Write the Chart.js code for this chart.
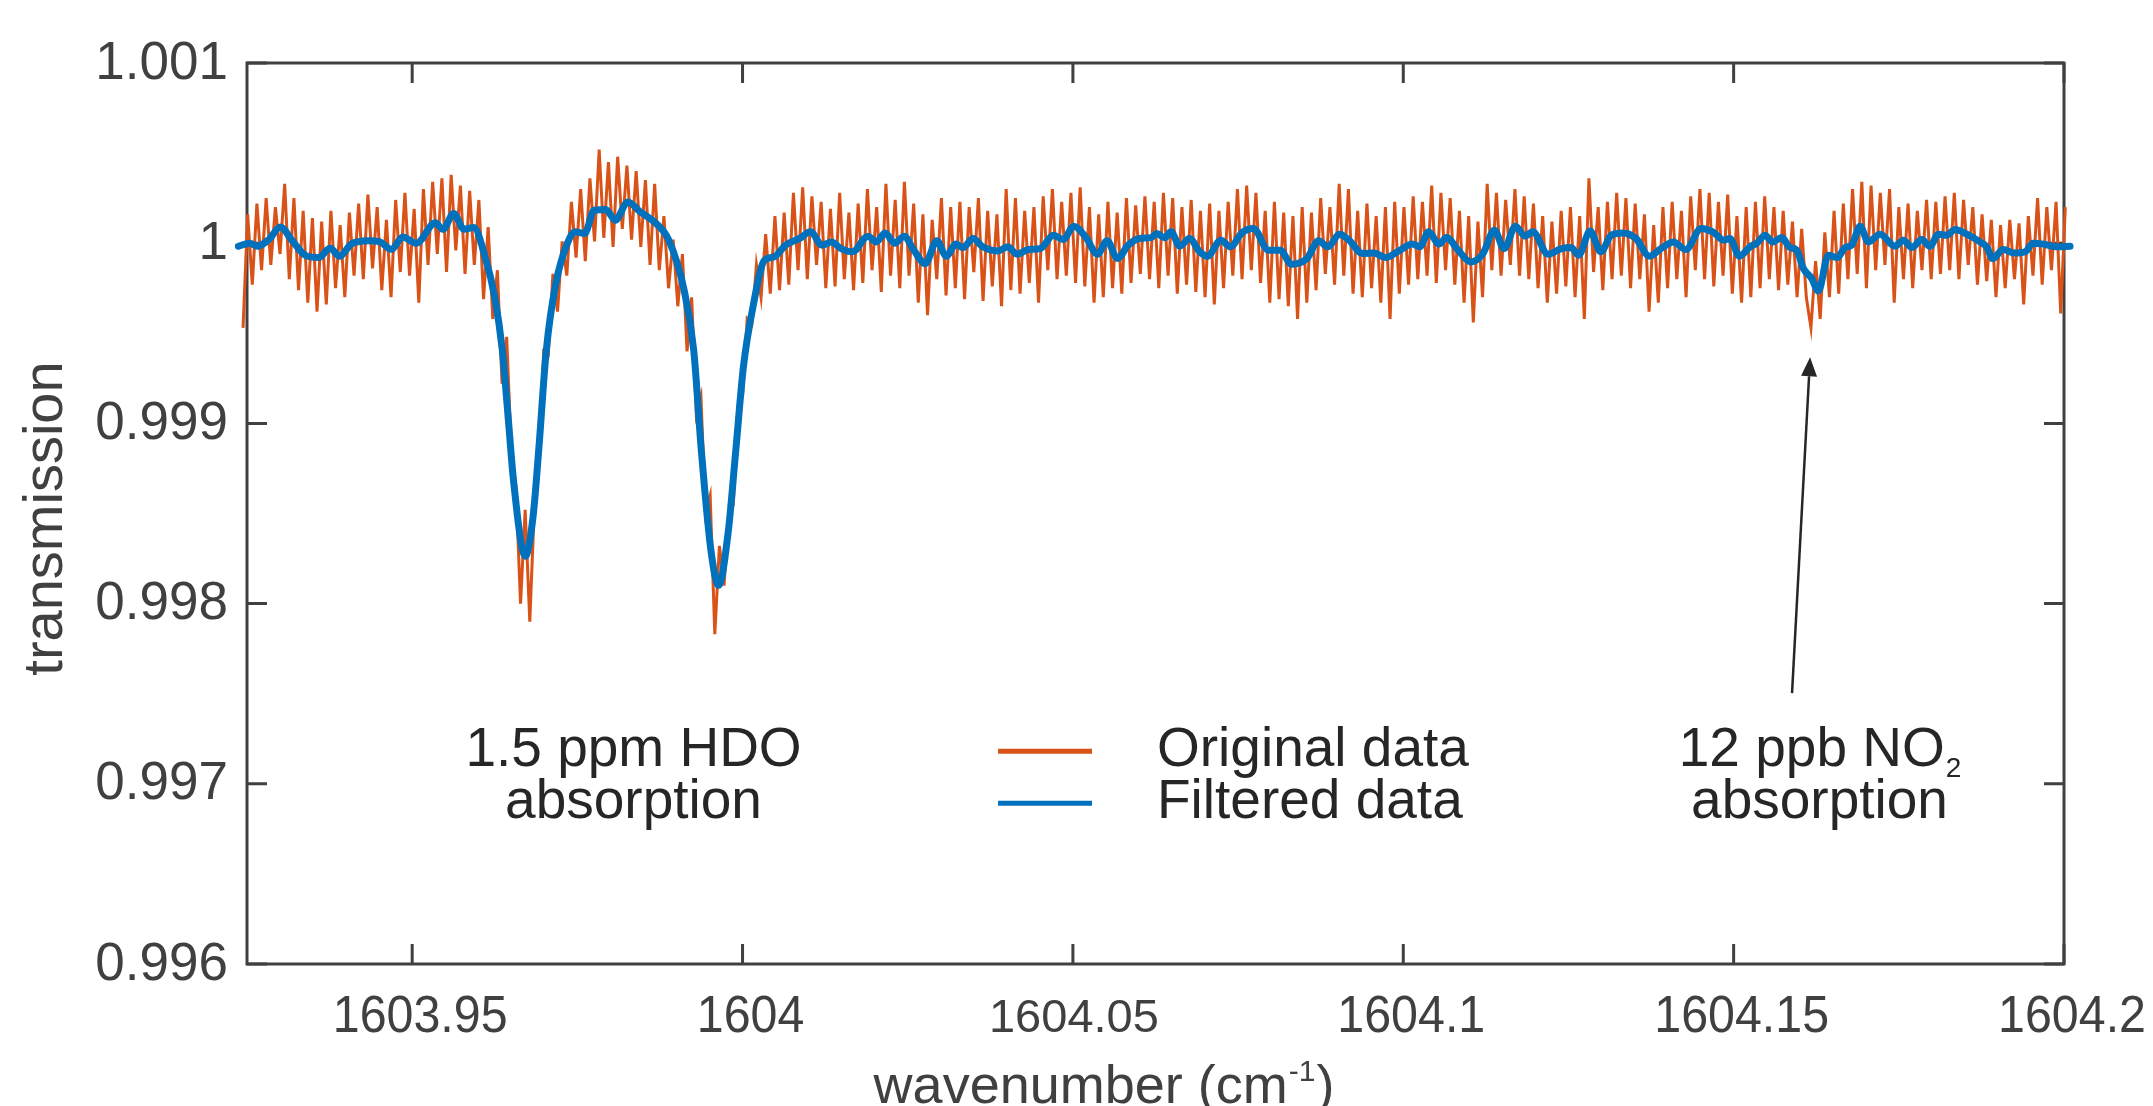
<!DOCTYPE html>
<html>
<head>
<meta charset="utf-8">
<script src="https://cdn.jsdelivr.net/npm/chart.js@4.4.1/dist/chart.umd.min.js"></script>
<style>
  html, body { margin: 0; padding: 0; background: #fff; }
  #wrap { width: 2153px; height: 1106px; }
</style>
</head>
<body>
<div id="wrap"><canvas id="spectrumChart" width="2153" height="1106"></canvas></div>
<script>
// axis ticks
const xTickValues = [1603.95, 1604, 1604.05, 1604.1, 1604.15, 1604.2];
const xTickLabels = ['1603.95', '1604', '1604.05', '1604.1', '1604.15', '1604.2'];
const yTickValues = [0.996, 0.997, 0.998, 0.999, 1, 1.001];
const yTickLabels = ['0.996', '0.997', '0.998', '0.999', '1', '1.001'];

// original data, evenly sampled in wavenumber; values are ppm deviation from 1
const originalStart = 1603.9237;
const originalStep = 0.0007;
const originalPpm = [
  100, -470, 160, -230, 220, -150, 250, -120, 200, -60,
  330, -200, 250, -260, 180, -330, 140, -380, 120, -340,
  180, -250, 100, -300, 170, -180, 220, -200, 270, -140,
  200, -260, 130, -300, 240, -160, 280, -180, 190, -330,
  300, -120, 340, -60, 360, -160, 380, -40, 320, -170,
  290, -120, 240, -310, 90, -420, -150, -780, -520, -1150,
  -1350, -2000, -1480, -2100, -1450, -1200, -600, -620, -170, -380,
  10, -180, 230, -80, 300, -100, 360, 10, 520, 30,
  450, -20, 480, 80, 430, 20, 400, -20, 350, -120,
  330, -150, 150, -250, 20, -350, -60, -600, -300, -950,
  -850, -1500, -1400, -2170, -1680, -1900, -1500, -1450, -900, -850,
  -420, -450, -120, -300, 50, -280, 150, -260, 170, -230,
  280, -150, 310, -200, 260, -120, 230, -250, 190, -240,
  280, -200, 170, -260, 220, -220, 300, -150, 200, -270,
  330, -180, 240, -250, 340, -180, 220, -330, 160, -400,
  130, -200, 250, -290, 200, -250, 230, -310, 200, -160,
  250, -320, 180, -240, 160, -350, 300, -260, 250, -280,
  180, -220, 200, -330, 260, -150, 300, -200, 230, -180,
  280, -220, 310, -240, 200, -330, 160, -300, 230, -250,
  170, -280, 250, -220, 210, -170, 260, -200, 230, -250,
  280, -180, 250, -280, 200, -230, 240, -270, 180, -300,
  220, -340, 180, -250, 230, -180, 300, -200, 320, -150,
  280, -220, 180, -330, 230, -310, 170, -350, 150, -420,
  200, -330, 170, -260, 250, -170, 200, -230, 330, -180,
  300, -280, 180, -300, 220, -250, 150, -330, 200, -420,
  230, -280, 200, -230, 260, -200, 230, -180, 320, -220,
  280, -150, 250, -230, 180, -330, 150, -440, 120, -300,
  330, -150, 280, -180, 240, -120, 300, -180, 260, -200,
  220, -250, 150, -330, 120, -280, 180, -240, 200, -300,
  150, -420, 360, -160, 200, -260, 230, -200, 280, -180,
  250, -250, 220, -200, 160, -380, 100, -330, 200, -250,
  230, -200, 180, -300, 260, -150, 300, -200, 280, -240,
  230, -180, 270, -280, 150, -330, 200, -300, 230, -250,
  260, -200, 200, -260, 180, -230, 120, -300, 80, -300,
  -470, -100, -420, 60, -300, 180, -280, 220, -200, 300,
  -170, 340, -250, 320, -150, 280, -120, 300, -330, 200,
  -200, 220, -250, 180, -150, 240, -200, 230, -170, 260,
  -150, 280, -200, 240, -120, 200, -230, 160, -210, 130,
  -300, 100, -250, 130, -200, 110, -340, 150, -180, 250,
  -230, 200, -150, 230, -390, 200, -100
];

// filtered data, read at the turning points of the smoothed curve
const filteredWavenumber = [
  1603.92368, 1603.92542, 1603.92657, 1603.92831, 1603.93006, 1603.93178, 1603.93381, 1603.93584, 1603.93758, 1603.93903,
  1603.94077, 1603.94337, 1603.94511, 1603.94686, 1603.94858, 1603.95061, 1603.95351, 1603.95466, 1603.95628, 1603.95784,
  1603.95930, 1603.96104, 1603.96249, 1603.96364, 1603.96452, 1603.96538, 1603.96712, 1603.96829, 1603.96915, 1603.97030,
  1603.97175, 1603.97349, 1603.97464, 1603.97610, 1603.97755, 1603.97929, 1603.98073, 1603.98265, 1603.98450, 1603.98681,
  1603.98884, 1603.99116, 1603.99261, 1603.99376, 1603.99521, 1603.99638, 1603.99781, 1603.99898, 1604.00013, 1604.00158,
  1604.00332, 1604.00476, 1604.00650, 1604.00870,
  1604.01029, 1604.01203, 1604.01346, 1604.01492, 1604.01666, 1604.01897, 1604.02024, 1604.02158, 1604.02303, 1604.02447,
  1604.02592, 1604.02766, 1604.02940, 1604.03084, 1604.03229, 1604.03334, 1604.03490, 1604.03635, 1604.03866, 1604.04012,
  1604.04155, 1604.04330, 1604.04504, 1604.04706, 1604.04852, 1604.05014, 1604.05198, 1604.05372, 1604.05518, 1604.05674,
  1604.05836, 1604.06010, 1604.06183, 1604.06270, 1604.06386, 1604.06485, 1604.06618, 1604.06763,
  1604.06921, 1604.07036, 1604.07239, 1604.07384, 1604.07556, 1604.07730, 1604.07962, 1604.08136, 1604.08310, 1604.08542,
  1604.08716, 1604.08861, 1604.09034, 1604.09179, 1604.09382, 1604.09556, 1604.09730, 1604.09933, 1604.10136, 1604.10251,
  1604.10384, 1604.10540, 1604.10656, 1604.10830, 1604.11021, 1604.11207, 1604.11380, 1604.11525, 1604.11699, 1604.11843,
  1604.11959, 1604.12191, 1604.12394, 1604.12539, 1604.12654, 1604.12828, 1604.12990, 1604.13147, 1604.13320, 1604.13522,
  1604.13725, 1604.13901, 1604.14090, 1604.14276, 1604.14508, 1604.14682, 1604.14854, 1604.14942, 1604.15088, 1604.15248,
  1604.15350, 1604.15475, 1604.15591, 1604.15728, 1604.15853, 1604.15955, 1604.16055, 1604.16182, 1604.16282, 1604.16433,
  1604.16569, 1604.16686, 1604.16787, 1604.16913, 1604.17039, 1604.17215, 1604.17443, 1604.17568, 1604.17696, 1604.17847,
  1604.17972, 1604.18098, 1604.18225, 1604.18351, 1604.18528, 1604.18729, 1604.18830, 1604.18921, 1604.19081, 1604.19233,
  1604.19410, 1604.19536, 1604.19687, 1604.19890, 1604.20091
];
const filteredPpm = [
  -17, 0, -17, 20, 90, 17, -67, -80, -28, -72,
  -5, 13, 7, -34, 35, 0, 113, 77, 165, 77,
  87, -76, -298, -594, -964, -1333, -1737, -1519, -1149, -594,
  -222, 0, 63, 54, 183, 187, 128, 229, 174, 113,
  17, -261, -594, -1149, -1704, -1898, -1609, -1149, -686, -353,
  -94, -76, -11, 28,
  63, -11, 7, -30, -48, 39, 7, 57, 0, 39,
  -39, -113, 13, -72, -5, -24, 26, -20, -43, -20,
  -61, -35, -30, 44, 20, 94, 31, -61, 13, -85,
  -11, 26, 31, 54, 30, 63, -17, 26,
  -48, -72, 17, -20, 57, 81, -39, -39, -117, -85,
  13, -20, 50, 17, -57, -54, -80, -43, -5, -20,
  63, -5, 31, -39, -104, -57, 72, -30, 94, 39,
  63, -61, -30, -24, -67, 68, -48, 44, 57, 26,
  -72, -30, 7, -35, 81, 63, 17, 26, -72, -20,
  0, 44, 7, 31, -24, -39, -140, -196, -265, -67,
  -80, -24, -11, 94, 7, 50, -17, 17, -24, 20,
  -17, 50, 44, 76, 50, 7, -20, -85, -35, -54,
  -48, 0, -5, -20, -17
];

// text annotations (data coordinates)
const hdoText = ['1.5 ppm HDO', 'absorption'];
const no2Text = ['12 ppb NO', 'absorption'];
const hdoX = 1603.98350;
const no2X = 1604.16300;
const noteRowsY = [0.997181, 0.996892];
const legendLineX = [1604.03867, 1604.05289];
const legendTextX = 1604.06273;
const arrowTail = { x: 1604.15884, y: 0.997503 };
const arrowTip = { x: 1604.16157, y: 0.999367 };

const axisColor = '#404040';
const textColor = '#262626';
const bodyFamily = "'Liberation Sans', Arial, Helvetica, sans-serif";
const tickLen = 20;

const originalData = originalPpm.map((v, i) => ({ x: originalStart + i * originalStep, y: 1 + v * 1e-6 }));
const filteredData = filteredPpm.map((v, i) => ({ x: filteredWavenumber[i], y: 1 + v * 1e-6 }));

// box with inward ticks on all four sides, plus tick labels
const frame = {
  id: 'frame',
  beforeDatasetsDraw(chart) {
    const { ctx, chartArea: a, scales } = chart;
    ctx.save();
    ctx.strokeStyle = axisColor;
    ctx.lineWidth = 3;
    ctx.strokeRect(a.left, a.top, a.right - a.left, a.bottom - a.top);
    ctx.beginPath();
    xTickValues.forEach(v => {
      const px = scales.x.getPixelForValue(v);
      ctx.moveTo(px, a.bottom); ctx.lineTo(px, a.bottom - tickLen);
      ctx.moveTo(px, a.top); ctx.lineTo(px, a.top + tickLen);
    });
    yTickValues.forEach(v => {
      const py = scales.y.getPixelForValue(v);
      ctx.moveTo(a.left, py); ctx.lineTo(a.left + tickLen, py);
      ctx.moveTo(a.right, py); ctx.lineTo(a.right - tickLen, py);
    });
    ctx.stroke();

    ctx.fillStyle = axisColor;
    ctx.textBaseline = 'alphabetic';
    ctx.textAlign = 'center';
    xTickValues.forEach((v, i) => {
      const px = scales.x.getPixelForValue(v);
      ctx.save();
      if (v === 1604.05) {
        ctx.translate(px + 1, a.bottom + 68);
        ctx.font = '47px ' + bodyFamily;
      } else {
        ctx.translate(px + 8, a.bottom + 68);
        ctx.font = '52px ' + bodyFamily;
        ctx.scale(0.93, 1);
      }
      ctx.fillText(xTickLabels[i], 0, 0);
      ctx.restore();
    });
    ctx.textAlign = 'right';
    ctx.textBaseline = 'middle';
    ctx.font = '53px ' + bodyFamily;
    yTickValues.forEach((v, i) => {
      ctx.fillText(yTickLabels[i], a.left - 19, scales.y.getPixelForValue(v) + 1);
    });
    ctx.restore();
  }
};

// axis titles, notes, legend, arrow
const notes = {
  id: 'notes',
  afterDatasetsDraw(chart) {
    const { ctx, chartArea: a, scales: { x, y } } = chart;
    ctx.save();

    // y title
    ctx.fillStyle = axisColor;
    ctx.font = '56px ' + bodyFamily;
    ctx.textAlign = 'center';
    ctx.textBaseline = 'middle';
    ctx.translate(47, (a.top + a.bottom) / 2 + 5);
    ctx.rotate(-Math.PI / 2);
    ctx.fillText('transmission', 0, 0);
    ctx.setTransform(1, 0, 0, 1, 0, 0);

    // x title with superscript
    ctx.textAlign = 'left';
    ctx.textBaseline = 'alphabetic';
    const p1 = 'wavenumber (cm', sup = '-1', p3 = ')';
    ctx.font = '54px ' + bodyFamily;
    const w1 = ctx.measureText(p1).width, w3 = ctx.measureText(p3).width;
    ctx.font = '30px ' + bodyFamily;
    const w2 = ctx.measureText(sup).width;
    const tx = 1103 - (w1 + w2 + w3) / 2;
    const ty = 1103;
    ctx.font = '54px ' + bodyFamily;
    ctx.fillText(p1, tx, ty);
    ctx.font = '30px ' + bodyFamily;
    ctx.fillText(sup, tx + w1 + 1, ty - 22);
    ctx.font = '54px ' + bodyFamily;
    ctx.fillText(p3, tx + w1 + w2 + 2, ty);

    // notes
    ctx.fillStyle = textColor;
    ctx.font = '55px ' + bodyFamily;
    ctx.textBaseline = 'middle';
    ctx.textAlign = 'center';
    hdoText.forEach((t, i) => ctx.fillText(t, x.getPixelForValue(hdoX), y.getPixelForValue(noteRowsY[i])));
    const nx = x.getPixelForValue(no2X);
    const ny0 = y.getPixelForValue(noteRowsY[0]);
    const wNo = ctx.measureText(no2Text[0]).width;
    ctx.font = '28px ' + bodyFamily;
    const wSub = ctx.measureText('2').width;
    ctx.textAlign = 'left';
    ctx.font = '55px ' + bodyFamily;
    const sx = nx - (wNo + wSub) / 2;
    ctx.fillText(no2Text[0], sx, ny0);
    ctx.font = '28px ' + bodyFamily;
    ctx.fillText('2', sx + wNo + 1, ny0 + 18);
    ctx.font = '55px ' + bodyFamily;
    ctx.textAlign = 'center';
    ctx.fillText(no2Text[1], nx, y.getPixelForValue(noteRowsY[1]));

    // legend
    ctx.textAlign = 'left';
    chart.data.datasets.forEach((ds, i) => {
      const ly = y.getPixelForValue(noteRowsY[i]);
      ctx.strokeStyle = ds.borderColor;
      ctx.lineWidth = 5;
      ctx.beginPath();
      ctx.moveTo(x.getPixelForValue(legendLineX[0]), ly);
      ctx.lineTo(x.getPixelForValue(legendLineX[1]), ly);
      ctx.stroke();
      ctx.fillStyle = textColor;
      ctx.fillText(ds.label, x.getPixelForValue(legendTextX), ly);
    });

    // arrow
    const x0 = x.getPixelForValue(arrowTail.x), y0 = y.getPixelForValue(arrowTail.y);
    const x1 = x.getPixelForValue(arrowTip.x), y1 = y.getPixelForValue(arrowTip.y);
    const ang = Math.atan2(y1 - y0, x1 - x0);
    const headLen = 19, headHalf = 8;
    const bx = x1 - headLen * Math.cos(ang), by = y1 - headLen * Math.sin(ang);
    ctx.strokeStyle = textColor;
    ctx.fillStyle = textColor;
    ctx.lineWidth = 2.5;
    ctx.beginPath();
    ctx.moveTo(x0, y0);
    ctx.lineTo(bx, by);
    ctx.stroke();
    ctx.beginPath();
    ctx.moveTo(x1, y1);
    ctx.lineTo(bx + headHalf * Math.sin(ang), by - headHalf * Math.cos(ang));
    ctx.lineTo(bx - headHalf * Math.sin(ang), by + headHalf * Math.cos(ang));
    ctx.closePath();
    ctx.fill();

    ctx.restore();
  }
};

new Chart(document.getElementById('spectrumChart').getContext('2d'), {
  type: 'line',
  data: {
    datasets: [{
      label: 'Original data',
      data: originalData,
      borderColor: '#D95319',
      borderWidth: 3,
      pointRadius: 0,
      tension: 0,
      order: 2,
      clip: { left: 12, right: 12, top: 0, bottom: 0 }
    }, {
      label: 'Filtered data',
      data: filteredData,
      borderColor: '#0072BD',
      borderWidth: 7,
      pointRadius: 0,
      cubicInterpolationMode: 'monotone',
      borderJoinStyle: 'round',
      borderCapStyle: 'round',
      order: 1,
      clip: { left: 12, right: 12, top: 0, bottom: 0 }
    }]
  },
  options: {
    responsive: false,
    animation: false,
    devicePixelRatio: 1,
    events: [],
    layout: { padding: { top: 63, right: 89, bottom: 0, left: 0 } },
    plugins: { legend: { display: false }, tooltip: { enabled: false } },
    scales: {
      x: {
        type: 'linear',
        min: 1603.925,
        max: 1604.2,
        grid: { display: false, drawTicks: false },
        border: { display: false },
        afterBuildTicks: s => { s.ticks = xTickValues.map(v => ({ value: v })); },
        afterFit: s => { s.height = 142; },
        ticks: { display: false }
      },
      y: {
        type: 'linear',
        min: 0.996,
        max: 1.001,
        grid: { display: false, drawTicks: false },
        border: { display: false },
        afterBuildTicks: s => { s.ticks = yTickValues.map(v => ({ value: v })); },
        afterFit: s => { s.width = 247; },
        ticks: { display: false }
      }
    }
  },
  plugins: [frame, notes]
});
</script>
</body>
</html>
